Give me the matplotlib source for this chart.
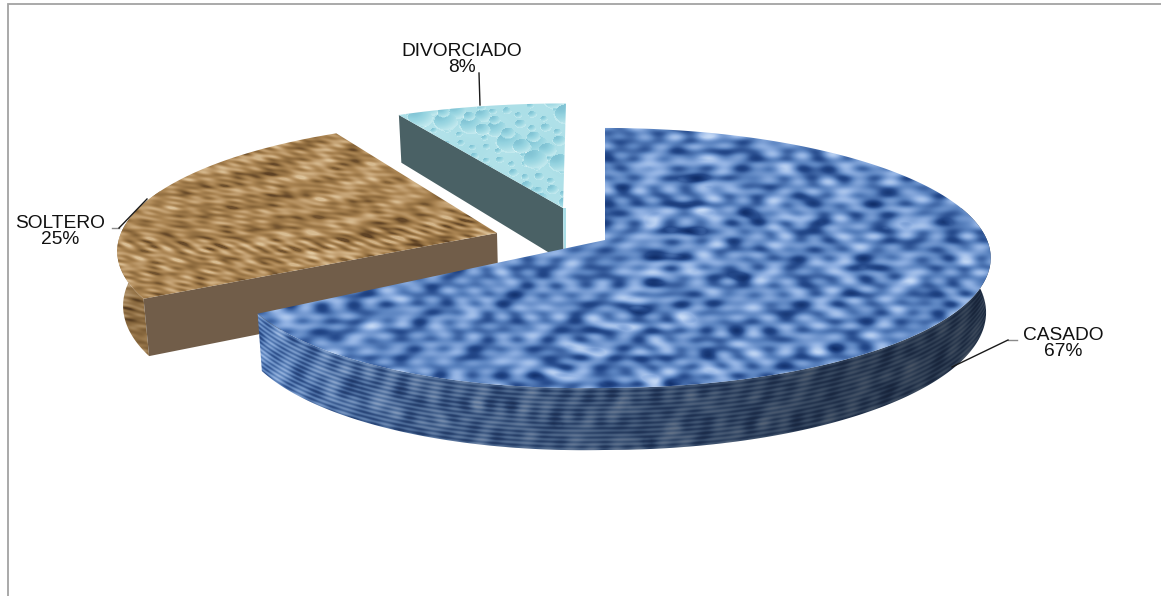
import numpy as np
import matplotlib
matplotlib.use("Agg")
import matplotlib.pyplot as plt
from matplotlib.colors import LinearSegmentedColormap
from matplotlib.patches import Polygon

# Marital status breakdown
categories = ["CASADO", "SOLTERO", "DIVORCIADO"]
shares = [67, 25, 8]

W, H = 1161, 596
plt.rcParams["font.family"] = ["Liberation Sans", "DejaVu Sans"]

# Projection of the tilted disc, in pixels
RY = [127.5, 127.5, 119.0]
PERSPECTIVE = 0.138
DEPTH = 53.5
APEX = [(605, 240), (497, 233), (563, 208)]
RX_LEFT = [370, 376, 388]
RX_RIGHT = [382, 382, 382]
LEAN = [0, 1, 3]
LEFT_DROP = [9, 0, 0]
VANISH_X = 605
FOOT_SHRINK = 0.012


def project(i, theta_deg, down=0.0):
    t = np.radians(np.asarray(theta_deg, dtype=float))
    u, v = np.sin(t), np.cos(t)
    s = 1.0 / (1.0 + PERSPECTIVE * v)
    rx = np.where(u < 0, RX_LEFT[i], RX_RIGHT[i])
    x = APEX[i][0] + rx * u * s + LEAN[i] * v
    y = APEX[i][1] - RY[i] * v * s + LEFT_DROP[i] * np.maximum(-u, 0)
    if down:
        x = x + (VANISH_X - x) * FOOT_SHRINK
    return x, y + down * s


def apex_depth(i):
    x = APEX[i][0]
    return x + (VANISH_X - x) * FOOT_SHRINK, APEX[i][1] + DEPTH


def wave_field(x, y, n, fmin, fmax, ax, ay, tilt=0.0, seed=0.0, falloff=0.45):
    # Layered sinusoids at golden-angle headings give an irregular surface
    ct, st = np.cos(tilt), np.sin(tilt)
    xr, yr = ct * x + st * y, -st * x + ct * y
    out = np.zeros_like(x, dtype=float)
    for k in range(1, n + 1):
        ang = k * 2.399963 + seed
        f = fmin * (fmax / fmin) ** ((k * 0.618034) % 1.0)
        out += np.sin(np.cos(ang) * f * ax * xr + np.sin(ang) * f * ay * yr + 1.7 * k + seed) * (fmin / f) ** falloff
    lo, hi = np.percentile(out, [1, 99])
    return np.clip((out - lo) / (hi - lo), 0, 1)


def grid(x0, x1, y0, y1):
    return np.meshgrid(np.arange(x0, x1) + 0.5, np.arange(y0, y1) + 0.5)


def paint(ax, rgb, bounds, poly, z):
    patch = Polygon(poly, closed=True, transform=ax.transData, fc="none", ec="none")
    ax.add_patch(patch)
    im = ax.imshow(rgb, extent=(bounds[0], bounds[1], bounds[3], bounds[2]), aspect="auto",
                   interpolation="bilinear", zorder=z)
    im.set_clip_path(patch)


def bbox(pts, pad=3):
    pts = np.asarray(pts)
    return (int(pts[:, 0].min()) - pad, int(pts[:, 0].max()) + pad,
            int(pts[:, 1].min()) - pad, int(pts[:, 1].max()) + pad)


def sector_poly(i, a0, a1, n=220):
    th = np.linspace(a0, a1, n)
    x, y = project(i, th)
    return np.vstack([[APEX[i]], np.column_stack([x, y])])


def band_poly(i, a0, a1, n=220):
    th = np.linspace(a0, a1, n)
    x, y = project(i, th)
    xb, yb = project(i, th, DEPTH)
    return np.vstack([np.column_stack([x, y]), np.column_stack([xb, yb])[::-1]])


def bark_texture(gx, gy):
    grain = wave_field(gx, gy, 130, 0.38, 1.5, 0.30, 1.0, tilt=0.22, seed=0.7, falloff=0.2)
    swell = wave_field(gx, gy, 24, 0.05, 0.2, 0.6, 1.0, tilt=0.3, seed=3.3)
    return np.clip(0.80 * grain + 0.20 * swell, 0, 1)


denim = LinearSegmentedColormap.from_list("denim", ["#0d2a66", "#254a8c", "#5a83c0", "#8fb0e2", "#c4d9f6"])
bark = LinearSegmentedColormap.from_list("bark", ["#5a3e22", "#8c693c", "#ab8553", "#c7a577", "#e2caa2"])
water = LinearSegmentedColormap.from_list("water", ["#6fb4c9", "#93d2df", "#aee0e8", "#c6ebf0", "#e6f7f8"])

fig = plt.figure(figsize=(W / 100, H / 100), dpi=100, facecolor="white")
ax = fig.add_axes([0, 0, 1, 1])

angles = np.cumsum([0] + [360 * s / sum(shares) for s in shares])

# Outer frame
ax.plot([8, 8, W], [H, 4, 4], color="#a3a3a3", lw=1.3, solid_joinstyle="miter", zorder=1)

# DIVORCIADO slice
i = 2
a0, a1 = angles[2], angles[3]
x0, y0 = project(i, a0)
cut = [APEX[i], (x0, y0), project(i, a0, DEPTH), apex_depth(i)]
ax.add_patch(Polygon(cut, closed=True, fc="#4a6165", ec="none", zorder=2))
strip = [APEX[i], (APEX[i][0] + 2.5, APEX[i][1]), (APEX[i][0] + 2.5, APEX[i][1] + DEPTH), apex_depth(i)]
ax.add_patch(Polygon(strip, closed=True, fc="#a9dde6", ec="none", zorder=2))
poly = sector_poly(i, a0, a1, 80)
b = bbox(poly)
gx, gy = grid(*b)
val = 0.5 + 0.10 * (wave_field(gx, gy, 25, 0.05, 0.3, 1, 1, seed=2.0) - 0.5)
for k in range(1, 120):
    px = b[0] + (b[1] - b[0]) * ((k * 0.754877) % 1.0)
    py = b[2] + (b[3] - b[2]) * ((k * 0.569840) % 1.0)
    r = 2.5 + 8 * ((k * 0.381966) % 1.0) ** 3
    dx, dy = (gx - px) / (r * 1.3), (gy - py) / r
    d2 = dx ** 2 + dy ** 2
    inside = d2 < 1
    val[inside] = np.clip(0.42 - 0.34 * (dy[inside] * -0.7 + dx[inside] * -0.5) - 0.15 * (1 - d2[inside]), 0, 1)
    rim = (d2 > 1) & (d2 < 1.3) & (dy > 0)
    val[rim] = np.minimum(1.0, val[rim] + 0.18)
paint(ax, water(val)[..., :3], b, poly, 3)

# SOLTERO slice
i = 1
a0, a1 = angles[1], angles[2]
band = band_poly(i, a0, 290, 80)
b = bbox(band)
gx, gy = grid(*b)
paint(ax, bark(bark_texture(gx, gy))[..., :3] * 0.88, b, band, 4)
x0, y0 = project(i, a0)
cut = [APEX[i], (x0, y0), project(i, a0, DEPTH), apex_depth(i)]
ax.add_patch(Polygon(cut, closed=True, fc="#715d49", ec="none", zorder=5))
poly = sector_poly(i, a0, a1)
b = bbox(poly)
gx, gy = grid(*b)
paint(ax, bark(bark_texture(gx, gy))[..., :3], b, poly, 6)

# CASADO slice
i = 0
a0, a1 = angles[0], angles[1]
band = band_poly(i, 75, a1, 320)
b = bbox(band)
gx, gy = grid(*b)
th = np.linspace(92, a1, 400)
ax_top, ay_top = project(i, th)
arc = np.argsort(ax_top)
top_edge = np.interp(gx, ax_top[arc], ay_top[arc])
rows = gy - top_edge
stripes = 0.5 + 0.34 * np.sin(2 * np.pi * rows / 4.6) + 0.2 * np.sin(2 * np.pi * gx / 23 + rows / 7)
weave = wave_field(gx, rows, 36, 0.1, 0.5, 1.0, 1.0, seed=4.1)
shade = np.interp(gx, [255, 420, 620, 820, 990], [1.05, 0.78, 0.6, 0.42, 0.34])
val = np.clip(0.5 * stripes + 0.5 * weave, 0, 1)
wall = denim(val * 0.82 + 0.04)[..., :3] * shade[..., None] * 0.85 + np.array([0.07, 0.08, 0.09])
paint(ax, np.clip(wall, 0, 1), b, band, 7)
poly = sector_poly(i, a0, a1, 320)
b = bbox(poly)
gx, gy = grid(*b)
warp = 0.6 * np.sin(gx / 37.0 + gy / 53.0) + 0.6 * np.sin(gy / 29.0 - gx / 71.0)
cell = np.sin(2 * np.pi * gx / 30.0 + warp) * np.sin(2 * np.pi * gy / 23.0 - warp)
blot = wave_field(gx, gy, 80, 0.10, 0.42, 0.72, 1.25, seed=1.3, falloff=0.25)
val = np.clip(0.62 * blot + 0.30 * (cell + 1) / 2 + 0.06 + 0.04 * np.sin(2 * np.pi * gy / 9.0), 0, 1)
paint(ax, denim(val)[..., :3], b, poly, 8)

# Value labels and their leader lines
label_pos = [(1063, 335, 351), (60, 223, 240), (462, 52, 68)]
leaders = [
    ([1017, 1008], [340, 340], [1008, 952], [340, 367]),
    ([112, 119], [228, 228], [119, 147], [228, 199]),
    ([479, 479], [73, 73], [479, 480], [73, 105]),
]
for name, share, (tx, ty1, ty2), (gx_, gy_, kx, ky) in zip(categories, shares, label_pos, leaders):
    ax.text(tx, ty1, name, ha="center", va="center", fontsize=13.8, color="#111111", zorder=10)
    ax.text(tx, ty2, f"{share}%", ha="center", va="center", fontsize=13.8, color="#111111", zorder=10)
    ax.plot(gx_, gy_, color="#8a8a8a", lw=1.0, zorder=9)
    ax.plot(kx, ky, color="#1a1a1a", lw=1.0, zorder=9)

ax.set_xlim(0, W)
ax.set_ylim(H, 0)
ax.axis("off")
fig.savefig("out.png", dpi=100, facecolor="white")
